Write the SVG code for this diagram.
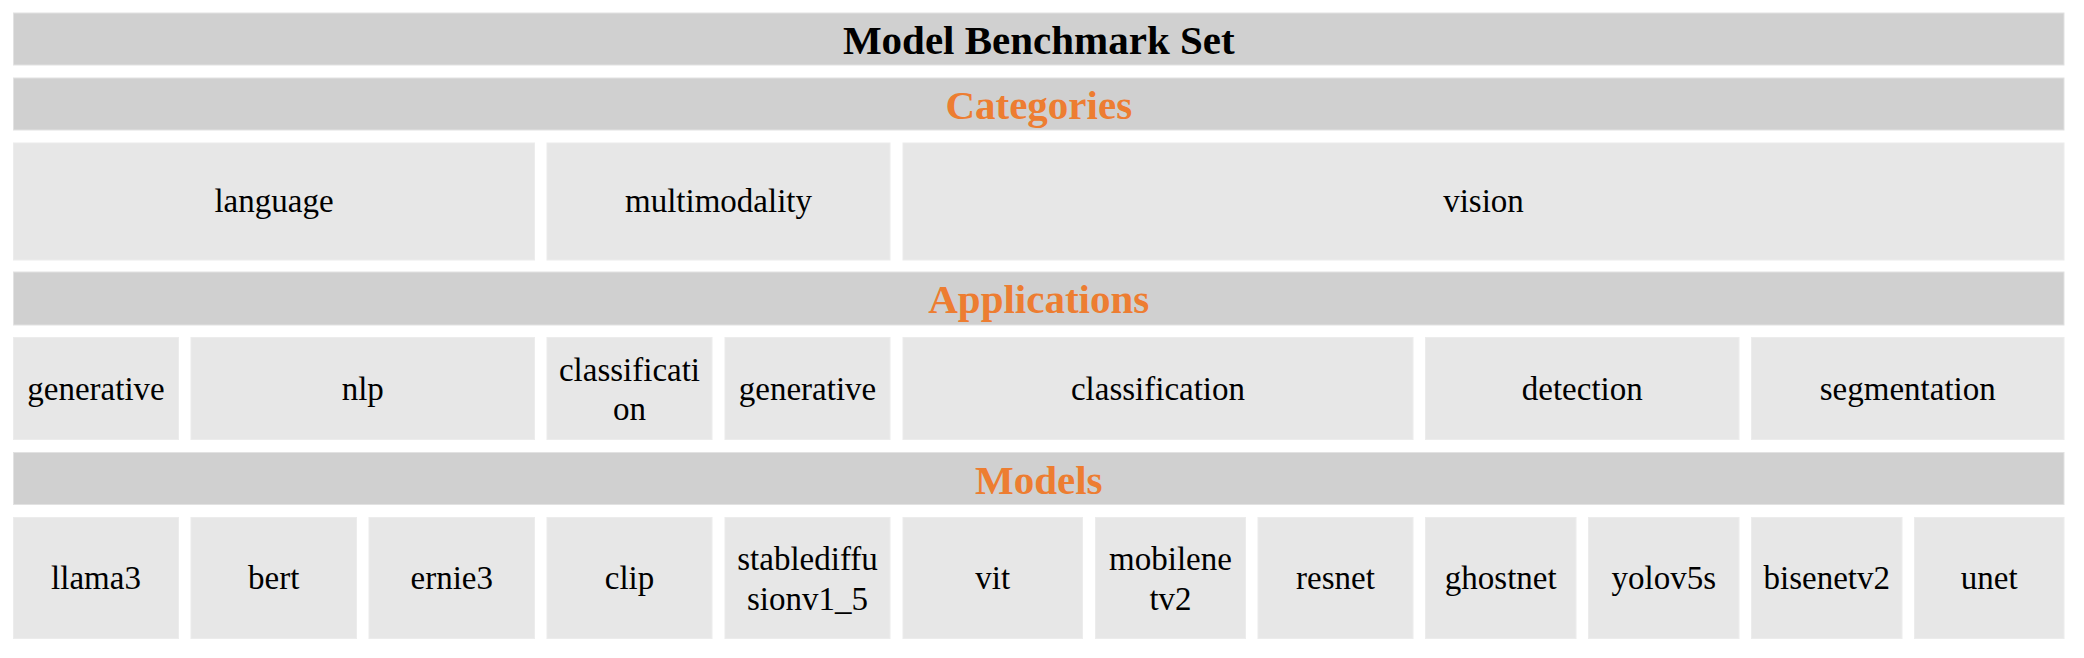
<svg xmlns="http://www.w3.org/2000/svg" width="2084" height="658" viewBox="0 0 2084 658">
<style>
.bar{fill:#d0d0d0;stroke:#e2e2e2;stroke-width:1}
.cell{fill:#e7e7e7;stroke:#ececec;stroke-width:1}
.h{font-family:'Liberation Serif','Times New Roman',serif;font-weight:bold;font-size:41px;text-anchor:middle}
.t{font-family:'Liberation Serif','Times New Roman',serif;font-size:33px;text-anchor:middle;fill:#000}
.or{fill:#ed7d31}
</style>
<rect width="2084" height="658" fill="#ffffff"/>
<g id="title"><rect class="bar" x="13.5" y="13" width="2050.5" height="52"/><text class="h" x="1038.75" y="53.5" fill="#000">Model Benchmark Set</text></g>
<g id="categories-header"><rect class="bar" x="13.5" y="78" width="2050.5" height="52"/><text class="h or" x="1038.75" y="118.5">Categories</text></g>
<g id="cat-language"><rect class="cell" x="13.5" y="143" width="521" height="117"/><text class="t" x="274" y="212">language</text></g>
<g id="cat-multimodality"><rect class="cell" x="547" y="143" width="343" height="117"/><text class="t" x="718.5" y="212">multimodality</text></g>
<g id="cat-vision"><rect class="cell" x="903" y="143" width="1161" height="117"/><text class="t" x="1483.5" y="212">vision</text></g>
<g id="applications-header"><rect class="bar" x="13.5" y="272" width="2050.5" height="53"/><text class="h or" x="1038.75" y="313">Applications</text></g>
<g id="app-generative-lang"><rect class="cell" x="13.5" y="337.5" width="165" height="102"/><text class="t" x="96" y="400">generative</text></g>
<g id="app-nlp"><rect class="cell" x="191" y="337.5" width="343.5" height="102"/><text class="t" x="362.75" y="400">nlp</text></g>
<g id="app-classification-mm"><rect class="cell" x="547" y="337.5" width="165" height="102"/><text class="t" x="629.5" y="381">classificati</text><text class="t" x="629.5" y="419.5">on</text></g>
<g id="app-generative-mm"><rect class="cell" x="725" y="337.5" width="165" height="102"/><text class="t" x="807.5" y="400">generative</text></g>
<g id="app-classification"><rect class="cell" x="903" y="337.5" width="510" height="102"/><text class="t" x="1158" y="400">classification</text></g>
<g id="app-detection"><rect class="cell" x="1425.5" y="337.5" width="313.5" height="102"/><text class="t" x="1582.25" y="400">detection</text></g>
<g id="app-segmentation"><rect class="cell" x="1751.5" y="337.5" width="312.5" height="102"/><text class="t" x="1907.75" y="400">segmentation</text></g>
<g id="models-header"><rect class="bar" x="13.5" y="452.5" width="2050.5" height="52"/><text class="h or" x="1038.75" y="493.5">Models</text></g>
<g id="m-llama3"><rect class="cell" x="13.5" y="517.5" width="165" height="121"/><text class="t" x="96" y="588.5">llama3</text></g>
<g id="m-bert"><rect class="cell" x="191" y="517.5" width="165.5" height="121"/><text class="t" x="273.75" y="588.5">bert</text></g>
<g id="m-ernie3"><rect class="cell" x="369" y="517.5" width="165.5" height="121"/><text class="t" x="451.75" y="588.5">ernie3</text></g>
<g id="m-clip"><rect class="cell" x="547" y="517.5" width="165" height="121"/><text class="t" x="629.5" y="588.5">clip</text></g>
<g id="m-stablediffusion"><rect class="cell" x="725" y="517.5" width="165" height="121"/><text class="t" x="807.5" y="570">stablediffu</text><text class="t" x="807.5" y="609.5">sionv1_5</text></g>
<g id="m-vit"><rect class="cell" x="903" y="517.5" width="179.5" height="121"/><text class="t" x="992.75" y="588.5">vit</text></g>
<g id="m-mobilenetv2"><rect class="cell" x="1095.5" y="517.5" width="150" height="121"/><text class="t" x="1170.5" y="570">mobilene</text><text class="t" x="1170.5" y="609.5">tv2</text></g>
<g id="m-resnet"><rect class="cell" x="1258" y="517.5" width="155" height="121"/><text class="t" x="1335.5" y="588.5">resnet</text></g>
<g id="m-ghostnet"><rect class="cell" x="1425.5" y="517.5" width="150.5" height="121"/><text class="t" x="1500.75" y="588.5">ghostnet</text></g>
<g id="m-yolov5s"><rect class="cell" x="1588.5" y="517.5" width="150.5" height="121"/><text class="t" x="1663.75" y="588.5">yolov5s</text></g>
<g id="m-bisenetv2"><rect class="cell" x="1751.5" y="517.5" width="150.5" height="121"/><text class="t" x="1826.75" y="588.5">bisenetv2</text></g>
<g id="m-unet"><rect class="cell" x="1914.5" y="517.5" width="149.5" height="121"/><text class="t" x="1989.25" y="588.5">unet</text></g>
<g id="connectors"></g>
</svg>
